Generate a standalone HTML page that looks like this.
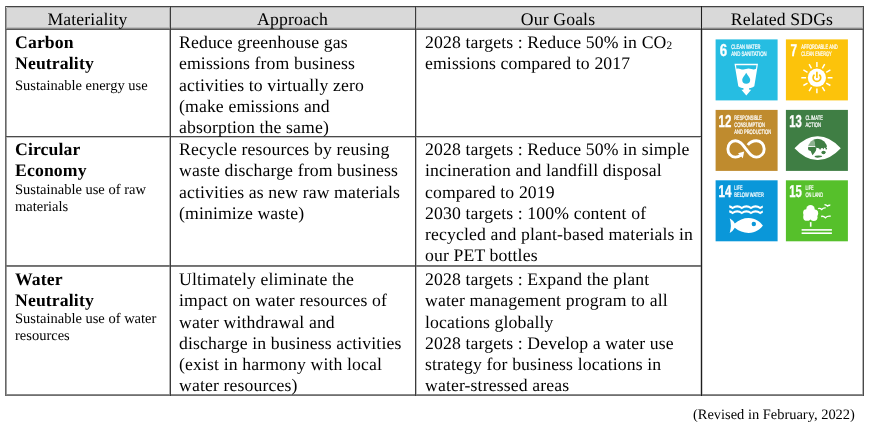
<!DOCTYPE html>
<html>
<head>
<meta charset="utf-8">
<style>
html,body{margin:0;padding:0;background:#fff;}
body{width:870px;height:426px;position:relative;overflow:hidden;font-family:"Liberation Serif",serif;color:#000;text-rendering:geometricPrecision;}
.t,.s,.hd,.sdg{will-change:transform;}
.ln{position:absolute;background:#3a3a3a;}
.h{position:absolute;left:0;top:0;}
.t{position:absolute;font-size:17.7px;letter-spacing:0.13px;line-height:21.3px;white-space:nowrap;}
.b{font-weight:bold;}
.s{position:absolute;font-size:14.5px;line-height:16.8px;white-space:nowrap;}
.hd{position:absolute;top:8px;height:22px;line-height:22px;font-size:17.7px;letter-spacing:0.13px;text-align:center;white-space:nowrap;}
.sdg{position:absolute;width:62px;height:61px;}
sub{font-size:0.64em;vertical-align:-0.13em;line-height:0;}
</style>
</head>
<body>
<!-- header background -->
<div style="position:absolute;left:6px;top:7px;width:857px;height:21px;background:#d9d9d9;"></div>
<!-- lines -->
<div class="ln" style="left:7px;top:7px;width:856px;height:1px;background:#b0b0b0;"></div>
<div class="ln" style="left:7px;top:27px;width:856px;height:1px;background:#bdbdbd;"></div>
<div class="ln" style="left:7px;top:137px;width:694px;height:1px;background:#c4c4c4;"></div>
<div class="ln" style="left:6px;top:8px;width:1px;height:386px;background:#a0a0a0;"></div>
<div class="ln" style="left:169px;top:8px;width:1px;height:386px;background:#b0b0b0;"></div>
<div class="ln" style="left:416px;top:8px;width:1px;height:386px;background:#c0c0c0;"></div>
<div class="ln" style="left:700px;top:8px;width:1px;height:386px;background:#d0d0d0;"></div>
<div class="ln" style="left:702px;top:8px;width:1px;height:386px;background:#d0d0d0;"></div>
<div class="ln" style="left:862px;top:8px;width:1px;height:386px;background:#b5b5b5;"></div>
<div class="ln" style="left:5px;top:6px;width:859px;height:1px;background:#444;"></div>
<div class="ln" style="left:5px;top:28px;width:859px;height:1px;background:#8a8a8a;"></div>
<div class="ln" style="left:5px;top:29px;width:859px;height:1px;background:#5a5a5a;"></div>
<div class="ln" style="left:5px;top:136px;width:697px;height:1px;background:#4a4a4a;"></div>
<div class="ln" style="left:5px;top:265px;width:697px;height:1px;background:#707070;"></div>
<div class="ln" style="left:5px;top:266px;width:697px;height:1px;background:#7a7a7a;"></div>
<div class="ln" style="left:5px;top:394px;width:859px;height:1px;background:#8a8a8a;"></div>
<div class="ln" style="left:5px;top:395px;width:859px;height:1px;background:#707070;"></div>
<div class="ln" style="left:5px;top:6px;width:1px;height:390px;background:#666;"></div>
<div class="ln" style="left:170px;top:6px;width:1px;height:390px;background:#3c3c3c;"></div>
<div class="ln" style="left:415px;top:6px;width:1px;height:390px;background:#3c3c3c;"></div>
<div class="ln" style="left:701px;top:6px;width:1px;height:390px;background:#1e1e1e;"></div>
<div class="ln" style="left:863px;top:6px;width:1px;height:390px;background:#4a4a4a;"></div>

<!-- header text -->
<div class="hd" style="left:5px;width:165px;">Materiality</div>
<div class="hd" style="left:170px;width:245px;">Approach</div>
<div class="hd" style="left:415px;width:286px;">Our Goals</div>
<div class="hd" style="left:701px;width:162px;">Related SDGs</div>

<!-- Row 1 -->
<div class="t b" style="left:15.3px;top:31.5px;">Carbon<br>Neutrality</div>
<div class="s" style="left:15.3px;top:78px;">Sustainable energy use</div>
<div class="t" style="left:179.3px;top:31.5px;">Reduce greenhouse gas<br>emissions from business<br>activities to virtually zero<br>(make emissions and<br>absorption the same)</div>
<div class="t" style="left:424.5px;top:31.5px;">2028 targets : Reduce 50% in CO<sub>2</sub><br>emissions compared to 2017</div>

<!-- Row 2 -->
<div class="t b" style="left:15.3px;top:139px;">Circular<br>Economy</div>
<div class="s" style="left:15.3px;top:182px;">Sustainable use of raw<br>materials</div>
<div class="t" style="left:179.3px;top:139px;">Recycle resources by reusing<br>waste discharge from business<br>activities as new raw materials<br>(minimize waste)</div>
<div class="t" style="left:424.5px;top:139px;">2028 targets : Reduce 50% in simple<br>incineration and landfill disposal<br>compared to 2019<br>2030 targets : 100% content of<br>recycled and plant-based materials in<br>our PET bottles</div>

<!-- Row 3 -->
<div class="t b" style="left:15.3px;top:268.5px;">Water<br>Neutrality</div>
<div class="s" style="left:15.3px;top:311px;">Sustainable use of water<br>resources</div>
<div class="t" style="left:179.3px;top:268.5px;">Ultimately eliminate the<br>impact on water resources of<br>water withdrawal and<br>discharge in business activities<br>(exist in harmony with local<br>water resources)</div>
<div class="t" style="left:424.5px;top:268.5px;">2028 targets : Expand the plant<br>water management program to all<br>locations globally<br>2028 targets : Develop a water use<br>strategy for business locations in<br>water-stressed areas</div>

<!-- SDG icons -->
<svg class="sdg" style="left:715px;top:39px;width:63px;height:62px;" viewBox="-0.60 -0.40 63 62" width="63" height="62"><rect width="62" height="61" fill="#26bde2"/><g fill="#fff" font-family="Liberation Sans" font-weight="bold"><text x="4.2" y="17.1" font-size="17.2" textLength="7.4" lengthAdjust="spacingAndGlyphs" stroke="#fff" stroke-width="0.35">6</text><text x="15.6" y="9.7" font-size="6.4" textLength="29.2" lengthAdjust="spacingAndGlyphs" font-weight="normal" stroke="#fff" stroke-width="0.22">CLEAN WATER</text><text x="15.6" y="17" font-size="6.4" textLength="35.4" lengthAdjust="spacingAndGlyphs" font-weight="normal" stroke="#fff" stroke-width="0.22">AND SANITATION</text><path d="M18.9 24.4H42.4L38.7 46.8Q37.5 48.2 35 48.5H33.6V50.4H35.6L30.7 56L25.8 50.4H27.8V48.5H26.4Q23.9 48.2 22.7 46.8Z"/><path d="M20.4 25.8H40.9L40.4 29.4Q38.5 30.6 35.8 29.7Q33 28.8 30.4 29.6Q27.6 30.5 24.6 29.5Q22.5 28.9 20.9 29.4Z" fill="#26bde2"/><path d="M30.6 33.4C29.2 36.2 26.6 38.3 26.6 40.4A4 4 0 0 0 34.6 40.4C34.6 38.3 32 36.2 30.6 33.4Z" fill="#26bde2"/></g></svg>
<svg class="sdg" style="left:785px;top:39px;width:63px;height:62px;" viewBox="-0.90 -0.40 63 62" width="63" height="62"><rect width="62" height="61" fill="#fcc30b"/><g fill="#fff" font-family="Liberation Sans" font-weight="bold"><text x="4.6" y="17.1" font-size="17.2" textLength="6.6" lengthAdjust="spacingAndGlyphs" stroke="#fff" stroke-width="0.35">7</text><text x="15.3" y="9.7" font-size="6.4" textLength="36.6" lengthAdjust="spacingAndGlyphs" font-weight="normal" stroke="#fff" stroke-width="0.22">AFFORDABLE AND</text><text x="15.3" y="17" font-size="6.4" textLength="30.4" lengthAdjust="spacingAndGlyphs" font-weight="normal" stroke="#fff" stroke-width="0.22">CLEAN ENERGY</text><path d="M31.00 27.50L31.00 22.70M36.40 28.95L38.80 24.79M40.35 32.90L44.51 30.50M41.80 38.30L46.60 38.30M40.35 43.70L44.51 46.10M36.40 47.65L38.80 51.81M31.00 49.10L31.00 53.90M25.60 47.65L23.20 51.81M21.65 43.70L17.49 46.10M20.20 38.30L15.40 38.30M21.65 32.90L17.49 30.50M25.60 28.95L23.20 24.79" stroke="#fff" stroke-width="1.45" fill="none"/><circle cx="31.0" cy="38.3" r="9.1"/><path d="M28.60 35.30A3.8 3.8 0 1 0 33.40 35.30" stroke="#fcc30b" stroke-width="1.7" fill="none"/><path d="M31.0 32.40V38.50" stroke="#fcc30b" stroke-width="1.7"/></g></svg>
<svg class="sdg" style="left:715px;top:109px;width:63px;height:62px;" viewBox="-0.60 -0.90 63 62" width="63" height="62"><rect width="62" height="61" fill="#bf8b2e"/><g fill="#fff" font-family="Liberation Sans" font-weight="bold"><text x="2.9" y="17.1" font-size="17.2" textLength="12.8" lengthAdjust="spacingAndGlyphs" stroke="#fff" stroke-width="0.35">12</text><text x="18.7" y="9.7" font-size="6.4" textLength="27.6" lengthAdjust="spacingAndGlyphs" font-weight="normal" stroke="#fff" stroke-width="0.22">RESPONSIBLE</text><text x="18.7" y="17" font-size="6.4" textLength="30.6" lengthAdjust="spacingAndGlyphs" font-weight="normal" stroke="#fff" stroke-width="0.22">CONSUMPTION</text><text x="18.7" y="24.2" font-size="6.4" textLength="36.9" lengthAdjust="spacingAndGlyphs" font-weight="normal" stroke="#fff" stroke-width="0.22">AND PRODUCTION</text><path d="M32.2 35.1C34.3 32.2 37.2 30.8 40.8 30.8C45.4 30.8 48.6 34.7 48.6 39C48.6 43.3 45.4 47.2 40.8 47.2C36.5 47.2 34 44 30.3 39C26.5 34 24.1 30.8 19.8 30.8C15.2 30.8 12.3 34.7 12.3 39C12.3 43.3 15.2 47.2 19.8 47.2C22 47.2 23.6 46.6 25 45.5" stroke="#fff" stroke-width="2.9" fill="none"/><path d="M28.6 41.5L22.4 43.4L27.2 48.3Z"/></g></svg>
<svg class="sdg" style="left:785px;top:109px;width:63px;height:62px;" viewBox="-0.90 -0.90 63 62" width="63" height="62"><rect width="62" height="61" fill="#3f7e44"/><g fill="#fff" font-family="Liberation Sans" font-weight="bold"><text x="3.3" y="17.1" font-size="17.2" textLength="12.6" lengthAdjust="spacingAndGlyphs" stroke="#fff" stroke-width="0.35">13</text><text x="19.5" y="9.7" font-size="6.4" textLength="17.5" lengthAdjust="spacingAndGlyphs" font-weight="normal" stroke="#fff" stroke-width="0.22">CLIMATE</text><text x="19.5" y="17" font-size="6.4" textLength="15.7" lengthAdjust="spacingAndGlyphs" font-weight="normal" stroke="#fff" stroke-width="0.22">ACTION</text><path d="M8.6 38.3Q20 26.2 31.75 26.4Q43.5 26.2 54.9 38.3Q43.5 50.4 31.75 50.2Q20 50.4 8.6 38.3Z"/><defs><clipPath id="gc"><circle cx="31.65" cy="38.35" r="9.5"/></clipPath></defs><g clip-path="url(#gc)" fill="#3f7e44"><path d="M27.5 28.5L42 28.5L42 36L40.6 37.4L39.6 38.6L38.4 37.6L37.6 39.6L36.6 38.2L35.2 38.4L34.2 40.2L33.2 38.6L32 38.2L30.6 38L29.8 37.2L29 36L28.6 33Z"/><path d="M21.5 29L28 28.5L29.4 35.6L28.3 36.3L24 36.1L21.5 36.3Z" fill="#8db290"/><path d="M21.5 37.2L26 37L29.8 37.2L30.4 38.4L30.2 40.4L29 42.4L27.6 44.2L26.6 45.3L25.6 43L24.8 41L22.5 40.4L21.5 39.6Z"/><ellipse cx="37.7" cy="42.6" rx="2.2" ry="1.7"/><ellipse cx="32.6" cy="46.9" rx="3.9" ry="1.4"/><circle cx="40.5" cy="38.8" r="0.9"/></g></g></svg>
<svg class="sdg" style="left:715px;top:180px;width:63px;height:62px;" viewBox="-0.60 -0.30 63 62" width="63" height="62"><rect width="62" height="61" fill="#0a97d9"/><g fill="#fff" font-family="Liberation Sans" font-weight="bold"><text x="2.9" y="17.1" font-size="17.2" textLength="12.9" lengthAdjust="spacingAndGlyphs" stroke="#fff" stroke-width="0.35">14</text><text x="18.7" y="9.7" font-size="6.4" textLength="8.2" lengthAdjust="spacingAndGlyphs" font-weight="normal" stroke="#fff" stroke-width="0.22">LIFE</text><text x="18.7" y="17" font-size="6.4" textLength="29.6" lengthAdjust="spacingAndGlyphs" font-weight="normal" stroke="#fff" stroke-width="0.22">BELOW WATER</text><defs><clipPath id="wc"><rect x="13.6" y="20" width="33.6" height="16"/></clipPath></defs><path d="M7.8 27.7Q12.399999999999999 24.3 17.0 27.7Q21.6 24.3 26.2 27.7Q30.799999999999997 24.3 35.4 27.7Q40.0 24.3 44.599999999999994 27.7Q49.199999999999996 24.3 53.8 27.7" stroke="#fff" stroke-width="2.1" fill="none" clip-path="url(#wc)"/><path d="M7.8 32.7Q12.399999999999999 29.3 17.0 32.7Q21.6 29.3 26.2 32.7Q30.799999999999997 29.3 35.4 32.7Q40.0 29.3 44.599999999999994 32.7Q49.199999999999996 29.3 53.8 32.7" stroke="#fff" stroke-width="2.1" fill="none" clip-path="url(#wc)"/><path d="M14.1 37.9Q17.6 40 19.2 43.2C23 39.6 28 37.6 33 37.6C40 37.6 44.6 41.5 47.3 45.2C44.6 49 40 52.6 33 52.6C28 52.6 23 50.8 19.2 47.4Q17.6 50.5 14.1 52.6Q16.4 45.2 14.1 37.9Z"/><circle cx="38.2" cy="43.7" r="2.2" fill="#0a97d9"/></g></svg>
<svg class="sdg" style="left:785px;top:180px;width:63px;height:62px;" viewBox="-0.90 -0.30 63 62" width="63" height="62"><rect width="62" height="61" fill="#56c02b"/><g fill="#fff" font-family="Liberation Sans" font-weight="bold"><text x="3.3" y="17.1" font-size="17.2" textLength="12.6" lengthAdjust="spacingAndGlyphs" stroke="#fff" stroke-width="0.35">15</text><text x="19.5" y="9.7" font-size="6.4" textLength="8.2" lengthAdjust="spacingAndGlyphs" font-weight="normal" stroke="#fff" stroke-width="0.22">LIFE</text><text x="19.5" y="17" font-size="6.4" textLength="17.6" lengthAdjust="spacingAndGlyphs" font-weight="normal" stroke="#fff" stroke-width="0.22">ON LAND</text><circle cx="24.6" cy="28.9" r="4.2"/><circle cx="20.6" cy="32.4" r="3.4"/><circle cx="28.6" cy="33" r="3.7"/><circle cx="21.2" cy="36.6" r="3.9"/><circle cx="27.8" cy="36.9" r="3.8"/><circle cx="24.6" cy="34" r="4"/><rect x="24" y="41.8" width="1.6" height="4.6"/><rect x="15.7" y="48.8" width="30.3" height="1.6"/><rect x="15.7" y="52.1" width="30.3" height="1.6"/><path d="M32.2 28.4Q34 27.4 35.8 29.2Q37.6 27.2 39.8 27.6 M38.6 24.4Q40.2 24.2 41.6 25.8Q42.8 24.6 44.4 25 M35.2 36.2Q37.4 35.4 39.5 37.4Q41.8 35.3 44.8 36" stroke="#fff" stroke-width="1.4" fill="none"/></g></svg>
<div class="s" style="left:692.6px;top:407px;font-size:14.45px;">(Revised in February, 2022)</div>
</body>
</html>
